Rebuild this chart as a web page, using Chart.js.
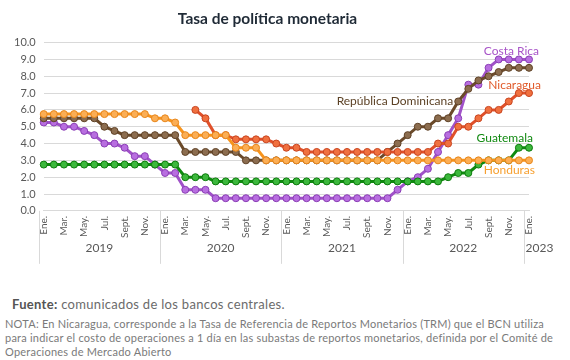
<!DOCTYPE html>
<html>
<head>
<meta charset="utf-8">
<script src="https://cdn.jsdelivr.net/npm/chart.js@4.4.0/dist/chart.umd.min.js"></script>
<style>
body{margin:0;background:#fff;font-family:Lato,sans-serif;}
#wrap{position:relative;width:570px;height:360px;overflow:hidden;}
#mycanvas{position:absolute;left:0;top:0;}
.fuente{position:absolute;left:12px;top:296px;font-size:13px;letter-spacing:0.3px;color:#6b6b6b;white-space:nowrap;}
.fuente b{color:#555;}
.nota{position:absolute;left:5px;top:317px;font-size:11px;letter-spacing:0.22px;line-height:14px;color:#7a7a7a;white-space:nowrap;}
</style>
</head>
<body>
<div id="wrap">
<canvas id="mycanvas" width="570" height="273"></canvas>
<div class="fuente"><b>Fuente:</b> comunicados de los bancos centrales.</div>
<div class="nota">NOTA: En Nicaragua, corresponde a la Tasa de Referencia de Reportos Monetarios (TRM) que el BCN utiliza<br>para indicar el costo de operaciones a 1 día en las subastas de reportos monetarios, definida por el Comité de<br>Operaciones de Mercado Abierto</div>
</div>
<script>
// meses ene 2019 - ene 2023
var meses=['Ene.','Feb.','Mar.','Abr.','May.','Jun.','Jul.','Ago.','Sept.','Oct.','Nov.','Dic.'];
var anios=['2019','2020','2021','2022','2023'];
var yTicks=[0,1,2,3,4,5,6,7,8,9,10];

var costaRica=[5.25,5.25,5.0,5.0,4.75,4.5,4.0,4.0,3.75,3.25,3.25,2.75,
	2.25,2.25,1.25,1.25,1.25,0.75,0.75,0.75,0.75,0.75,0.75,0.75,
	0.75,0.75,0.75,0.75,0.75,0.75,0.75,0.75,0.75,0.75,0.75,1.25,
	1.75,2.0,2.5,3.5,4.5,5.5,7.5,7.5,8.5,9.0,9.0,9.0,
	9.0];
var nicaragua=[null,null,null,null,null,null,null,null,null,null,null,null,
	null,null,null,6.0,5.5,4.5,4.5,4.25,4.25,4.25,4.25,4.0,
	3.75,3.75,3.5,3.5,3.5,3.5,3.5,3.5,3.5,3.5,3.5,3.5,
	3.5,3.5,3.5,4.0,4.0,5.0,5.0,5.5,6.0,6.0,6.5,7.0,
	7.0];
var dominicana=[5.5,5.5,5.5,5.5,5.5,5.5,5.0,4.75,4.5,4.5,4.5,4.5,
	4.5,4.5,3.5,3.5,3.5,3.5,3.5,3.5,3.0,3.0,3.0,3.0,
	3.0,3.0,3.0,3.0,3.0,3.0,3.0,3.0,3.0,3.0,3.5,4.0,
	4.5,5.0,5.0,5.5,5.5,6.5,7.25,7.75,8.0,8.25,8.5,8.5,
	8.5];
var guatemala=[2.75,2.75,2.75,2.75,2.75,2.75,2.75,2.75,2.75,2.75,2.75,2.75,
	2.75,2.75,2.0,2.0,2.0,1.75,1.75,1.75,1.75,1.75,1.75,1.75,
	1.75,1.75,1.75,1.75,1.75,1.75,1.75,1.75,1.75,1.75,1.75,1.75,
	1.75,1.75,1.75,1.75,2.0,2.25,2.25,2.75,3.0,3.0,3.0,3.75,
	3.75];
var honduras=[5.75,5.75,5.75,5.75,5.75,5.75,5.75,5.75,5.75,5.75,5.75,5.5,
	5.5,5.25,4.5,4.5,4.5,4.5,4.5,3.75,3.75,3.75,3.0,3.0,
	3.0,3.0,3.0,3.0,3.0,3.0,3.0,3.0,3.0,3.0,3.0,3.0,
	3.0,3.0,3.0,3.0,3.0,3.0,3.0,3.0,3.0,3.0,3.0,3.0,
	3.0];

var labels=[];
for(var i=0;i<costaRica.length;i++){
	labels.push(meses[i%12]);
}

function serie(nombre,datos,linea,relleno,borde,texto,punto,dx,dy,align){
	return {
		label:nombre,
		data:datos,
		borderColor:linea,
		backgroundColor:linea,
		borderWidth:3,
		pointRadius:3.5,
		pointBorderWidth:1,
		pointBackgroundColor:relleno,
		pointBorderColor:borde,
		tension:0,
		etiqueta:{color:texto,punto:punto,dx:dx,dy:dy,align:align}
	};
}

// texto de cada serie junto a la linea
var nombresPlugin={
	id:'nombres',
	afterDatasetsDraw:function(chart){
		var ctx=chart.ctx;
		chart.data.datasets.forEach(function(ds,i){
			var meta=chart.getDatasetMeta(i);
			var e=ds.etiqueta;
			var p=meta.data[e.punto<0?ds.data.length-1:e.punto];
			ctx.save();
			ctx.font='12px Lato';
			ctx.fillStyle=e.color;
			ctx.textAlign=e.align;
			ctx.textBaseline='middle';
			ctx.fillText(ds.label,p.x+e.dx,p.y+e.dy);
			ctx.restore();
		});
	}
};

// fila de años con separadores
var aniosPlugin={
	id:'anios',
	afterDraw:function(chart){
		var x=chart.scales.x,ctx=chart.ctx,area=chart.chartArea;
		var paso=x.getPixelForValue(1)-x.getPixelForValue(0);
		ctx.save();
		ctx.strokeStyle='#d9d9d9';
		ctx.lineWidth=1;
		ctx.font='12px Lato';
		ctx.fillStyle='#595959';
		ctx.textAlign='center';
		ctx.textBaseline='middle';
		for(var a=0;a<anios.length;a++){
			var ini=a*12,fin=Math.min(ini+11,labels.length-1);
			var xs=Math.round(x.getPixelForValue(ini)-paso/2)+0.5;
			ctx.beginPath();
			ctx.moveTo(xs,area.bottom);
			ctx.lineTo(xs,area.bottom+53);
			ctx.stroke();
			var xc=(x.getPixelForValue(ini)+x.getPixelForValue(fin))/2;
			var w=ctx.measureText(anios[a]).width;
			if(xc-w/2<xs+1) xc=xs+1+w/2;
			ctx.fillText(anios[a],xc,area.bottom+37);
		}
		ctx.restore();
	}
};

var chartdata={
	labels:labels,
	datasets:[
		serie('Honduras',honduras,'#f7941d','#fbae55','#e8861a','#f7a030',-1,6,10,'right'),
		serie('Guatemala',guatemala,'#0f8a0f','#3cb83c','#0d7a0d','#128a12',-1,4,-10,'right'),
		serie('Nicaragua',nicaragua,'#e0502a','#f0703f','#c8441f','#e05a2a',-1,12,-8,'right'),
		serie('República Dominicana',dominicana,'#6b4a2a','#8c6d4f','#5e4126','#5c4226',41,-5,0,'right'),
		serie('Costa Rica',costaRica,'#a052c8','#b86ee0','#8a3eb5','#a855c8',-1,10,-8,'right')
	]
};

var ctx=document.getElementById('mycanvas');
var lineGraph=new Chart(ctx,{
	type:'line',
	data:chartdata,
	plugins:[nombresPlugin,aniosPlugin],
	options:{
		responsive:false,
		animation:false,
		layout:{padding:{left:6,right:41,top:0,bottom:30}},
		plugins:{
			legend:{display:false},
			tooltip:{enabled:false},
			title:{
				display:true,
				text:'Tasa de política monetaria',
				color:'#1f2a36',
				font:{family:'Lato',size:15.5,weight:'bold'},
				padding:{top:10,bottom:14}
			}
		},
		scales:{
			x:{
				grid:{display:false,drawTicks:false},
				border:{display:true,color:'#d9d9d9'},
				ticks:{
					autoSkip:false,
					maxRotation:90,
					minRotation:90,
					padding:5,
					color:'#595959',
					font:{family:'Lato',size:10},
					callback:function(val,i){return i%2==0?this.getLabelForValue(val):'';}
				}
			},
			y:{
				min:yTicks[0],
				max:yTicks[yTicks.length-1],
				grid:{color:'#d9d9d9',drawTicks:false},
				border:{display:false},
				ticks:{
					stepSize:1,
					padding:8,
					color:'#595959',
					font:{family:'Lato',size:11},
					callback:function(v){return v.toFixed(1);}
				}
			}
		}
	}
});
</script>
</body>
</html>
